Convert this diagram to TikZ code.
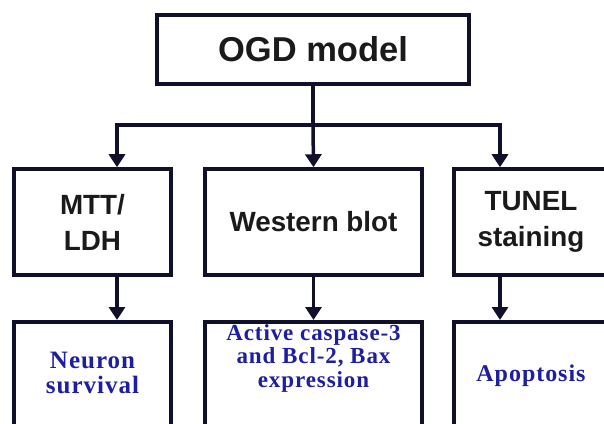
\documentclass[tikz,border=0pt]{standalone}
\usepackage{fontspec}
\setmainfont{Liberation Serif}
\newfontfamily\headfont{Liberation Sans}
\newfontfamily\resfont[LetterSpace=4]{Liberation Serif}
\usepackage{tikz}
\definecolor{boxline}{HTML}{10102A}
\definecolor{resblue}{HTML}{1E1EA0}
\definecolor{headgray}{HTML}{1A1A1A}
\usetikzlibrary{positioning, arrows.meta}
\tikzstyle{arrow} = [line width=3.5pt,-{Triangle[width=16pt,length=13pt]}]

\begin{document}
\begin{tikzpicture}[x=1pt,y=1pt]
                    \useasboundingbox (0,0) rectangle (604,423);
                    \clip (0,0) rectangle (604,423);
                    \tikzstyle{box} = [rectangle, draw=boxline, line width=3.5pt, fill=white, inner sep=0pt, align=center]
                    \tikzstyle{method} = [box, minimum height=106pt, font=\headfont\bfseries\fontsize{27.8}{36}\selectfont, text=headgray]
                    \tikzstyle{result} = [box, anchor=north, font=\resfont\bfseries\fontsize{23}{23.5}\selectfont, text=resblue]
                    \tikzstyle{line} = [line width=3.5pt, draw=boxline]

                    % top box
                    \node[box, minimum width=312pt, minimum height=69pt, font=\headfont\bfseries\fontsize{34.5}{36}\selectfont, text=headgray] (ogd) at (313,373.5) {OGD model};

                    % methods
                    \node[method, minimum width=157pt] (mtt) at (92.5,201) {MTT/\\LDH};
                    \node[method, minimum width=217pt] (wb) at (313.5,201) {Western blot};
                    \node[method, minimum width=154pt] (tunel) at (531,201) {TUNEL\\staining};

                    % results
                    \node[result, minimum width=157pt, text height=72pt, text depth=60pt, font=\resfont\bfseries\fontsize{25}{25}\selectfont] (surv) at (92.5,103) {Neuron\\survival};
                    \node[result, minimum width=217pt, text height=65.5pt, text depth=60pt] (expr) at (313.5,103) {Active caspase-3\\and Bcl-2, Bax\\expression};
                    \node[result, minimum width=154pt, text height=60pt, text depth=60pt, font=\resfont\bfseries\fontsize{24}{24}\selectfont] (apop) at (531,103) {Apoptosis};

                    % connectors
                    \coordinate (jc) at (313,298);
                    \coordinate (jl) at (117,298);
                    \coordinate (jr) at (500,298);
                    \draw[line] (ogd.south) -- (jc);
                    \draw[line, line cap=rect] (jl) -- (jr);
                    \draw[arrow, draw=boxline, fill=boxline] (jl) -- (jl |- mtt.north);
                    \draw[arrow, draw=boxline, fill=boxline] (jc) -- (wb.north);
                    \draw[arrow, draw=boxline, fill=boxline] (jr) -- (jr |- tunel.north);
                    \draw[arrow, draw=boxline, fill=boxline] (jl |- mtt.south) -- (jl |- surv.north);
                    \draw[arrow, draw=boxline, fill=boxline] (wb.south) -- (expr.north);
                    \draw[arrow, draw=boxline, fill=boxline] (jr |- tunel.south) -- (jr |- apop.north);
            \end{tikzpicture}
\end{document}
